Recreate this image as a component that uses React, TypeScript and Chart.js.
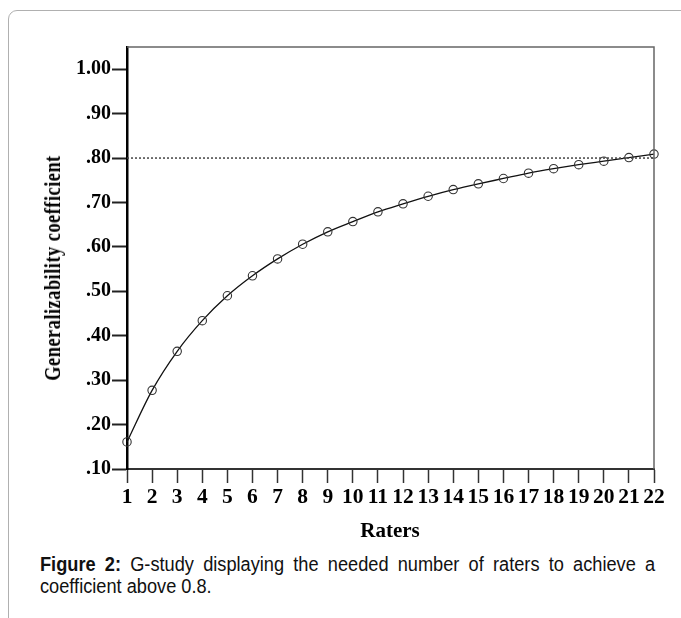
import React, { useEffect, useRef } from "react";
import { Chart, registerables } from "chart.js";

Chart.register(...registerables);

const raters = [1, 2, 3, 4, 5, 6, 7, 8, 9, 10, 11, 12, 13, 14, 15, 16, 17, 18, 19, 20, 21, 22];
const coefficients = [0.161, 0.277, 0.365, 0.434, 0.49, 0.535, 0.573, 0.606, 0.634, 0.657, 0.679, 0.697, 0.714, 0.729, 0.742, 0.754, 0.766, 0.776, 0.785, 0.793, 0.801, 0.809];
const yTicks = [0.1, 0.2, 0.3, 0.4, 0.5, 0.6, 0.7, 0.8, 0.9, 1.0];
const threshold = 0.8;
const yTitle = "Generalizability coefficient";
const xTitle = "Raters";

const SERIF = "'Liberation Serif', 'Times New Roman', serif";
const SANS = "'Liberation Sans', Arial, sans-serif";

const frameLines = {
  id: "frameLines",
  afterDatasetsDraw(chart: any) {
    const { ctx, chartArea } = chart;
    ctx.save();
    ctx.strokeStyle = "#666";
    ctx.lineWidth = 1.5;
    ctx.beginPath();
    ctx.moveTo(chartArea.left, chartArea.top);
    ctx.lineTo(chartArea.right, chartArea.top);
    ctx.lineTo(chartArea.right, chartArea.bottom);
    ctx.stroke();
    ctx.restore();
  },
};

export default function App() {
  const ref = useRef<HTMLCanvasElement>(null);
  useEffect(() => {
    if (!ref.current) return;
    const chart = new Chart(ref.current, {
      type: "line",
      data: {
        datasets: [
          {
            data: [
              { x: raters[0], y: threshold },
              { x: raters[raters.length - 1], y: threshold },
            ],
            borderColor: "#444",
            borderWidth: 1.5,
            borderDash: [2, 2],
            pointRadius: 0,
            fill: false,
          },
          {
            data: raters.map((r, i) => ({ x: r, y: coefficients[i] })),
            borderColor: "#111",
            borderWidth: 1.3,
            tension: 0.4,
            cubicInterpolationMode: "monotone",
            pointRadius: 4.2,
            pointBackgroundColor: "rgba(255,255,255,0)",
            pointBorderColor: "#333",
            pointBorderWidth: 1.1,
            fill: false,
            clip: false,
          } as any,
        ],
      },
      options: {
        animation: false,
        responsive: false,
        maintainAspectRatio: false,
        layout: { padding: { top: 47, right: 27, left: 0, bottom: 0 } },
        plugins: { legend: { display: false }, tooltip: { enabled: false } },
        scales: {
          x: {
            type: "linear",
            min: 1,
            max: 22,
            afterBuildTicks: (s: any) => {
              s.ticks = raters.map((v) => ({ value: v }));
            },
            afterFit: (s: any) => {
              s.height = 51;
            },
            ticks: {
              color: "#000",
              font: { family: SERIF, weight: "bold", size: 21.5 },
              padding: 2,
              maxRotation: 0,
              autoSkip: false,
              callback: (v: any) => String(v),
            },
            grid: {
              drawOnChartArea: false,
              tickLength: 14,
              tickColor: "#333",
              tickWidth: 1.5,
            },
            border: { color: "#333", width: 2 },
          },
          y: {
            type: "linear",
            min: 0.1,
            max: 1.05,
            afterBuildTicks: (s: any) => {
              s.ticks = yTicks.map((v) => ({ value: v }));
            },
            afterFit: (s: any) => {
              s.width = 127;
            },
            ticks: {
              color: "#000",
              font: { family: SERIF, weight: "bold", size: 20 },
              padding: 1,
              callback: (v: any) => {
                const n = Number(v);
                return n >= 1 ? n.toFixed(2) : n.toFixed(2).replace(/^0/, "");
              },
            },
            grid: {
              drawOnChartArea: false,
              tickLength: 15,
              tickColor: "#222",
              tickWidth: 2,
            },
            border: { color: "#000", width: 2.5 },
          },
        },
      },
      plugins: [frameLines],
    });
    return () => chart.destroy();
  }, []);

  return (
    <div
      style={{
        position: "absolute",
        left: 0,
        top: 0,
        width: 681,
        height: 618,
        overflow: "hidden",
        background: "#fff",
      }}
    >
      <div
        style={{
          position: "absolute",
          left: 8,
          top: 10,
          width: 760,
          height: 760,
          border: "1px solid #b0b0b0",
          borderRadius: 9,
        }}
      />
      <canvas
        ref={ref}
        width={681}
        height={520}
        style={{ position: "absolute", left: 0, top: 0, width: 681, height: 520 }}
      />
      <div
        style={{
          position: "absolute",
          left: 53,
          top: 268,
          transform: "translate(-50%, -50%) rotate(-90deg) scaleX(0.8)",
          whiteSpace: "nowrap",
          fontFamily: SERIF,
          fontWeight: "bold",
          fontSize: 23,
          letterSpacing: 0.6,
          color: "#000",
        }}
      >
        {yTitle}
      </div>
      <div
        style={{
          position: "absolute",
          left: 390,
          top: 530,
          transform: "translate(-50%, -50%)",
          whiteSpace: "nowrap",
          fontFamily: SERIF,
          fontWeight: "bold",
          fontSize: 21,
          color: "#000",
        }}
      >
        {xTitle}
      </div>
      <div
        style={{
          position: "absolute",
          left: 40,
          top: 554,
          width: 676,
          transform: "scaleX(0.91)",
          transformOrigin: "0 0",
          fontFamily: SANS,
          fontSize: 20,
          lineHeight: "21.5px",
          color: "#111",
        }}
      >
        <div style={{ textAlign: "justify", textAlignLast: "justify" } as any}>
          <b>Figure 2:</b> G-study displaying the needed number of raters to achieve a
        </div>
        <div>coefficient above 0.8.</div>
      </div>
    </div>
  );
}
